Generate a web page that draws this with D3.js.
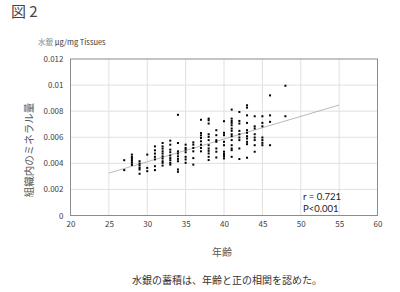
<!DOCTYPE html>
<html>
<head>
<meta charset="utf-8">
<script src="https://cdn.jsdelivr.net/npm/d3@7"></script>
<style>
  body { margin: 0; background: #fff; }
  svg { display: block; }
</style>
</head>
<body>
<svg id="chart" width="400" height="292"></svg>
<script>
// ages (x) and the mercury values measured at each age (y, ug/mg)
const ages = [27, 28, 29, 30, 31, 32, 33, 34, 35, 36, 37, 38, 39, 40, 41, 42, 43, 44, 45, 46, 48];
const mercury = [
    [0.00424, 0.00348],
    [0.00467, 0.00449, 0.00434, 0.00419, 0.00404, 0.00388],
    [0.00416, 0.00398, 0.00383, 0.00365, 0.00353, 0.0032],
    [0.00467, 0.00365, 0.0034],
    [0.0053, 0.005, 0.00475, 0.0045, 0.0043, 0.00378, 0.00348],
    [0.00556, 0.0053, 0.00513, 0.00492, 0.00475, 0.00454, 0.00437, 0.00416, 0.00404, 0.00383],
    [0.00574, 0.00543, 0.00505, 0.00485, 0.0046, 0.0044, 0.00424, 0.00404, 0.0039],
    [0.00772, 0.00556, 0.00492, 0.00475, 0.00454, 0.00434, 0.00416, 0.00353, 0.00335],
    [0.00543, 0.00518, 0.00505, 0.00485, 0.0045, 0.0043, 0.00404],
    [0.00561, 0.00543, 0.00518, 0.00492, 0.0044, 0.0039],
    [0.00734, 0.00632, 0.00614, 0.00594, 0.00569, 0.00543, 0.00518, 0.00492],
    [0.00743, 0.0073, 0.00705, 0.00623, 0.00603, 0.00578, 0.00539, 0.00514, 0.00496, 0.00476, 0.0045, 0.00425],
    [0.00654, 0.00616, 0.00578, 0.00565, 0.00514, 0.00489, 0.00445],
    [0.00723, 0.00634, 0.00616, 0.00565, 0.00539, 0.00489, 0.00471, 0.00455, 0.00438],
    [0.00812, 0.00743, 0.00725, 0.0071, 0.00692, 0.00667, 0.00649, 0.00623, 0.00608, 0.00578, 0.00539, 0.00514, 0.00501, 0.0045],
    [0.00794, 0.00725, 0.00705, 0.00649, 0.00623, 0.00598, 0.00578, 0.00514, 0.00433],
    [0.00845, 0.00827, 0.00768, 0.0071, 0.00654, 0.00634, 0.00608, 0.0059, 0.00565, 0.00547, 0.00443],
    [0.00761, 0.00684, 0.00667, 0.00623, 0.00598, 0.00578, 0.00539, 0.00489],
    [0.00761, 0.0071, 0.00684, 0.00598, 0.00578, 0.00557, 0.00539],
    [0.00921, 0.00768, 0.00718, 0.00539],
    [0.00995, 0.00761]
];

// linear trend line end points
const trendAges = [25, 55];
const trendValues = [0.00325, 0.00847];

const xTicks = [20, 25, 30, 35, 40, 45, 50, 55, 60];
const yTicks = [0, 0.002, 0.004, 0.006, 0.008, 0.01, 0.012];
const yTickLabels = ["0", "0.002", "0.004", "0.006", "0.008", "0.01", "0.012"];

const stats = ["r = 0.721", "P<0.001"];

let svg = d3.select("#chart");
let jpFont = "'Noto Sans CJK JP', 'Noto Sans', sans-serif";
let textColor = "#404040";

let x = d3.scaleLinear().domain([20, 60]).range([70.5, 377.5]);
let y = d3.scaleLinear().domain([0, 0.012]).range([215.5, 59]);

// figure label
svg.append("text")
    .attr("x", 11)
    .attr("y", 17)
    .text("図 2")
    .style("font-family", jpFont)
    .style("font-size", "15px")
    .attr("fill", "#444");

// unit label
let unit = svg.append("text")
    .attr("x", 38)
    .attr("y", 45)
    .style("font-family", jpFont)
    .style("font-size", "7.5px");
unit.append("tspan").text("水銀 ").attr("fill", "#888");
unit.append("tspan").text("μg/mg Tissues").attr("fill", "#333");

// grid lines
svg.append("g")
    .selectAll("line.vx")
    .data(xTicks.slice(1, -1))
    .join("line")
    .attr("x1", d => x(d))
    .attr("x2", d => x(d))
    .attr("y1", y(0.012))
    .attr("y2", y(0))
    .attr("stroke", "#e0e0e0")
    .attr("stroke-width", 1);

svg.append("g")
    .selectAll("line.hy")
    .data(yTicks.slice(1, -1))
    .join("line")
    .attr("x1", x(20))
    .attr("x2", x(60))
    .attr("y1", d => y(d))
    .attr("y2", d => y(d))
    .attr("stroke", "#e0e0e0")
    .attr("stroke-width", 1);

// plot border
svg.append("rect")
    .attr("x", x(20))
    .attr("y", y(0.012))
    .attr("width", x(60) - x(20))
    .attr("height", y(0) - y(0.012))
    .attr("fill", "none")
    .attr("stroke", "#8c8c8c")
    .attr("stroke-width", 1);

// x axis
let xAxis = svg.append("g")
    .attr("transform", "translate(0," + y(0) + ")")
    .call(d3.axisBottom(x).tickValues(xTicks).tickSize(0).tickPadding(6));
xAxis.select(".domain").remove();
xAxis.selectAll("text")
    .style("font-family", jpFont)
    .style("font-size", "8px")
    .attr("fill", textColor);

// y axis
let yAxis = svg.append("g")
    .attr("transform", "translate(" + x(20) + ",0)")
    .call(d3.axisLeft(y).tickValues(yTicks).tickSize(0).tickPadding(7)
        .tickFormat((d, i) => yTickLabels[i]));
yAxis.select(".domain").remove();
yAxis.selectAll("text")
    .style("font-family", jpFont)
    .style("font-size", "8px")
    .attr("fill", textColor);

// trend line
svg.append("line")
    .attr("x1", x(trendAges[0]))
    .attr("y1", y(trendValues[0]))
    .attr("x2", x(trendAges[1]))
    .attr("y2", y(trendValues[1]))
    .attr("stroke", "#a6a6a6")
    .attr("stroke-width", 0.8);

// points
let points = [];
ages.forEach((a, i) => mercury[i].forEach(v => points.push({age: a, value: v})));

svg.append("g")
    .selectAll("rect")
    .data(points)
    .join("rect")
    .attr("x", d => x(d.age) - 1)
    .attr("y", d => y(d.value) - 1)
    .attr("width", 2)
    .attr("height", 2)
    .attr("fill", "#000");

// stats
svg.append("g")
    .selectAll("text")
    .data(stats)
    .join("text")
    .attr("x", 303)
    .attr("y", (d, i) => 200 + i * 11.5)
    .text(d => d)
    .style("font-family", "Lato, 'Open Sans', sans-serif")
    .style("font-size", "9.5px")
    .attr("fill", "#222");

// axis titles
svg.append("text")
    .attr("transform", "translate(33,150) rotate(-90)")
    .attr("text-anchor", "middle")
    .text("組織内のミネラル量")
    .style("font-family", jpFont)
    .style("font-size", "10.5px")
    .attr("fill", "#595959");

svg.append("text")
    .attr("x", 222)
    .attr("y", 256)
    .attr("text-anchor", "middle")
    .text("年齢")
    .style("font-family", jpFont)
    .style("font-size", "10px")
    .attr("fill", "#595959");

// caption
svg.append("text")
    .attr("x", 132)
    .attr("y", 284)
    .text("水銀の蓄積は、年齢と正の相関を認めた。")
    .style("font-family", jpFont)
    .style("font-size", "10px")
    .attr("fill", "#333");
</script>
</body>
</html>
